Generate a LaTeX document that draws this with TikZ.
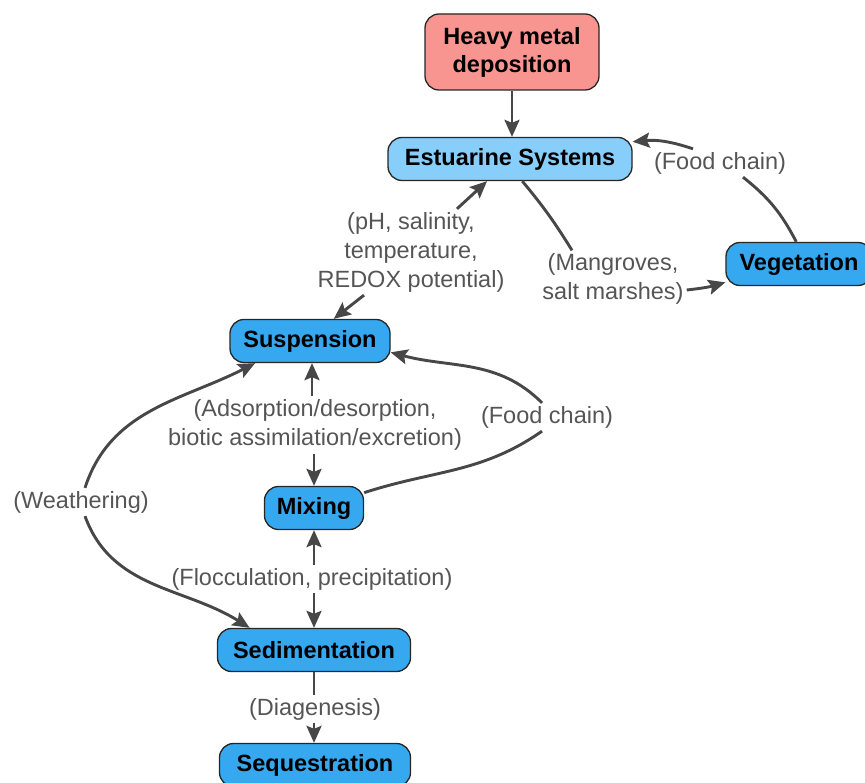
\documentclass[tikz,border=0pt]{standalone}
\usepackage{fontspec}
\setmainfont{Liberation Sans}
\usepackage{tikz}
\usetikzlibrary{arrows.meta}

\definecolor{redbox}{HTML}{F99590}
\definecolor{lightbox}{HTML}{87CEFA}
\definecolor{bluebox}{HTML}{35A8F0}
\definecolor{edgegray}{HTML}{474747}
\definecolor{labelgray}{HTML}{555555}

\begin{document}
\begin{tikzpicture}[x=1pt,y=1pt,
	every node/.style={align=center},
	box/.style={draw=black!85,line width=1.3pt,rounded corners=14pt,minimum height=43pt,inner sep=0pt,font=\bfseries\fontsize{23.5}{28}\selectfont},
	lbl/.style={inner sep=3pt,text=labelgray,font=\fontsize{23.5}{29}\selectfont},
	link/.style={draw=edgegray,line width=2.9pt},
	tip/.style={link,-{Stealth[length=17pt,width=15pt,inset=3pt]}}]

	\useasboundingbox (0,0) rectangle (865,782);

	\node[box,fill=redbox,minimum width=174pt,minimum height=76pt] (heavy) at (512,730) {Heavy metal\\deposition};
	\node[box,fill=lightbox,minimum width=244pt] (est) at (510,623) {Estuarine Systems};
	\node[box,fill=bluebox,minimum width=146pt] (veg) at (799,518) {Vegetation};
	\node[box,fill=bluebox,minimum width=160pt] (susp) at (310,441) {Suspension};
	\node[box,fill=bluebox,minimum width=99pt] (mix) at (314,274) {Mixing};
	\node[box,fill=bluebox,minimum width=193pt] (sed) at (314,132) {Sedimentation};
	\node[box,fill=bluebox,minimum width=191pt] (seq) at (315,17) {Sequestration};

	\node[lbl] (lph) at (411,530) {(pH, salinity,\\temperature,\\REDOX potential)};
	\node[lbl] (lmang) at (613,503) {(Mangroves,\\salt marshes)};
	\node[lbl] (lfood1) at (720,619) {(Food chain)};
	\node[lbl] (lads) at (315,357) {(Adsorption/desorption,\\biotic assimilation/excretion)};
	\node[lbl] (lfood2) at (547,365) {(Food chain)};
	\node[lbl] (lwea) at (81,280) {(Weathering)};
	\node[lbl] (lfloc) at (312,203) {(Flocculation, precipitation)};
	\node[lbl] (ldia) at (315,73) {(Diagenesis)};

	\draw[tip] (heavy) -- (heavy |- est.north);
	\draw[tip] ([xshift=-47pt]lph.south) -- (susp.43);
	\draw[tip] ([xshift=46pt]lph.north) -- (est.224);
	\draw[link] (est.299) to[bend left=4] ([xshift=-41pt]lmang.north);
	\draw[tip] ([yshift=-11pt]lmang.east) to[bend right=5] (veg.194);
	\draw[link] (veg.97) to[bend right=12] ([xshift=23pt]lfood1.south);
	\draw[tip] ([xshift=-27pt]lfood1.north) to[bend right=12] (est.8);
	\draw[tip] ([xshift=-3pt]lads.north) -- ([xshift=-3pt]lads.north |- susp.south);
	\draw[tip] ([xshift=-1pt]lads.south) -- ([xshift=-1pt]lads.south |- mix.north);
	\draw[tip] ([xshift=-5pt]lfood2.north) to[out=135,in=-15] (susp.-8);
	\draw[link] (mix.17) to[out=18,in=-145] ([xshift=-5pt]lfood2.south);
	\draw[tip] (lfloc.north -| mix) -- (mix.south);
	\draw[tip] (lfloc.south -| sed) -- (sed.north);
	\draw[tip] ([xshift=4pt]lwea.north) to[out=72,in=207] (susp.202);
	\draw[tip] ([xshift=4pt]lwea.south) to[out=-70,in=148] (sed.161);
	\draw[link] (sed.south) -- (ldia.north -| sed);
	\draw[tip] (ldia.south -| sed) -- (seq.north -| sed);
\end{tikzpicture}
\end{document}
